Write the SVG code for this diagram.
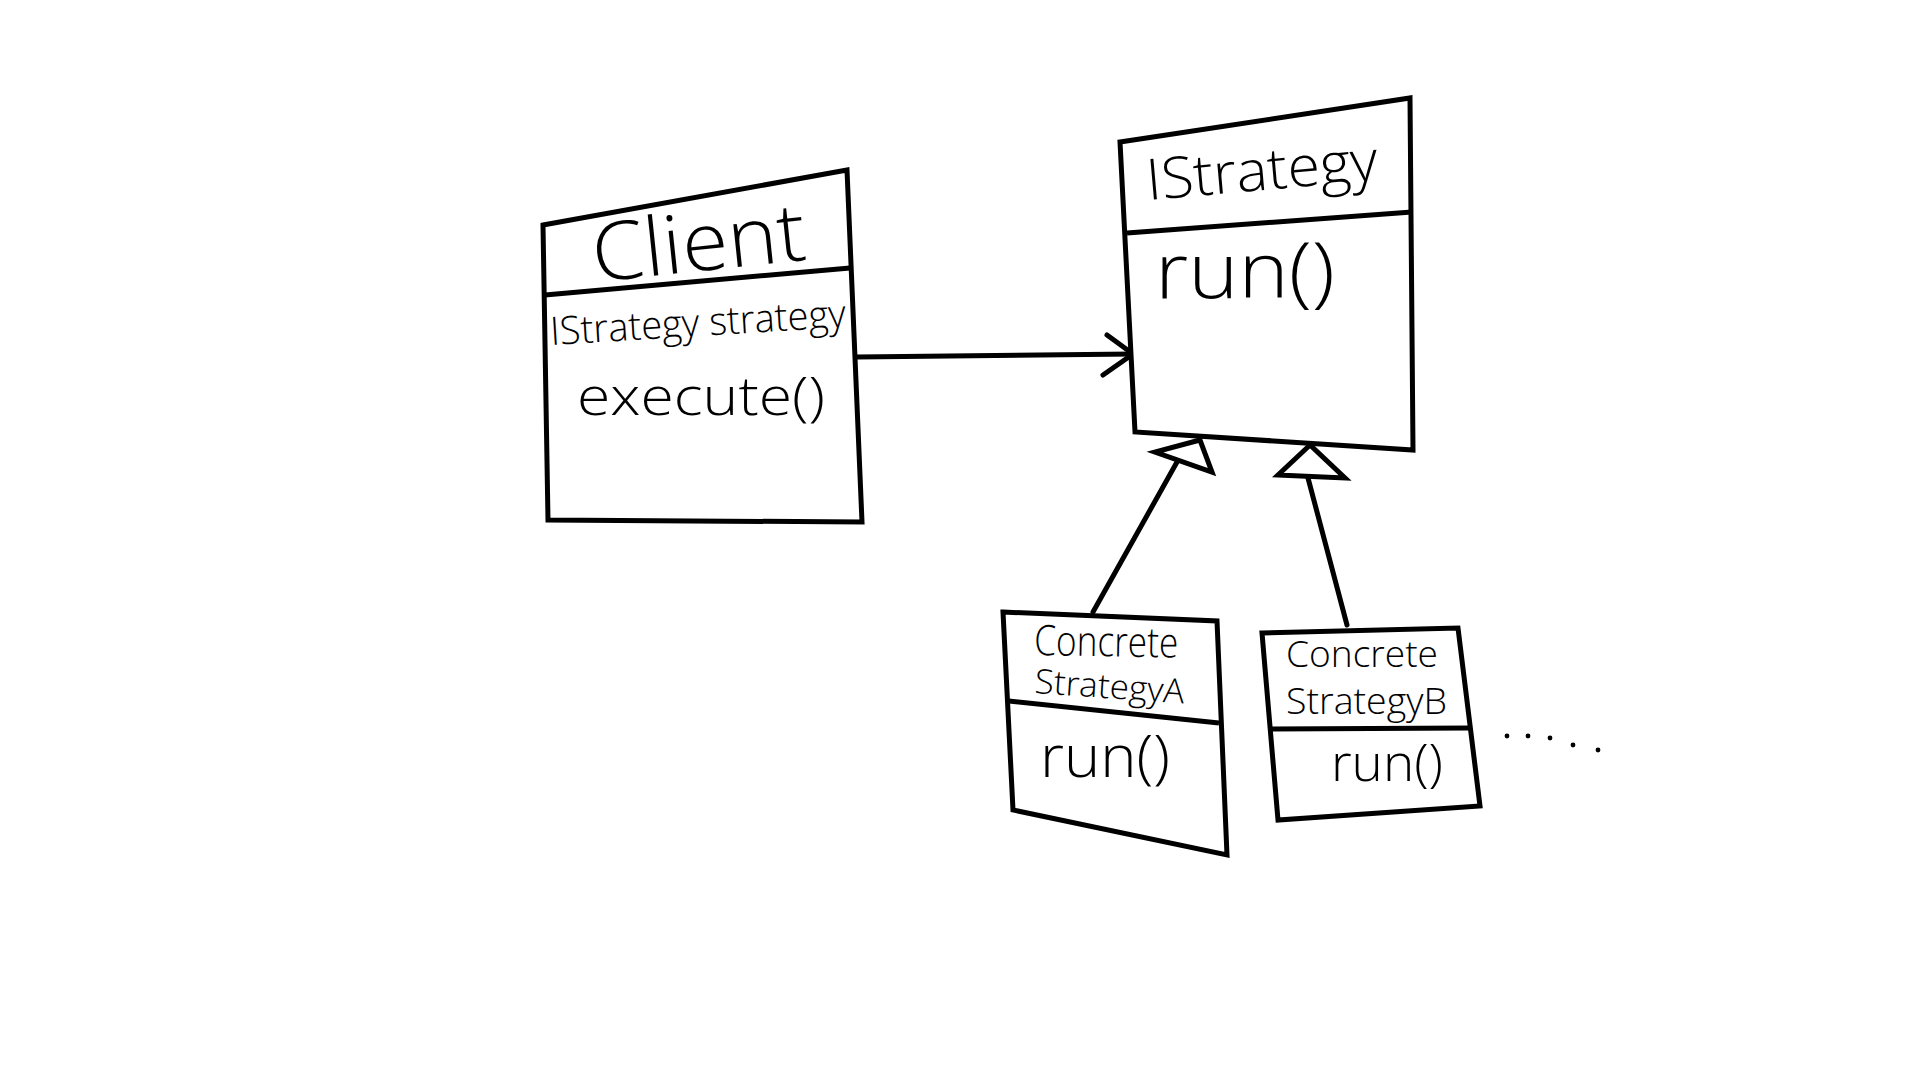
<svg xmlns="http://www.w3.org/2000/svg" width="1920" height="1080" viewBox="0 0 1920 1080">
<style>
.box{fill:#fff;stroke:#000;stroke-width:5;stroke-linejoin:miter}
.div{fill:none;stroke:#000;stroke-width:5}
.t{font-family:"Open Sans","Noto Sans","Liberation Sans",sans-serif;font-weight:300;fill:#000}
.ln{fill:none;stroke:#000;stroke-width:5;stroke-linecap:round;stroke-linejoin:round}
.tri{fill:#fff;stroke:#000;stroke-width:5;stroke-linejoin:miter}
.dot{fill:#000}
</style>
<rect width="1920" height="1080" fill="#fff"/>
<g id="connectors">
<path class="ln" d="M857,357 L1133,354"/>
<path class="ln" d="M1107,335 L1133,354 L1103,375"/>
<path class="ln" d="M1093,612 L1177,462"/>
<polygon class="tri" points="1200,440 1155,452 1212,472"/>
<path class="ln" d="M1347,625 L1308,478"/>
<polygon class="tri" points="1310,445 1278,475 1345,478"/>
</g>
<g id="client">
<polygon class="box" points="543,225 847,170 862,522 548,520"/>
<line class="div" x1="545" y1="295" x2="850" y2="268"/>
<text class="t" x="595" y="282" font-size="81" textLength="214" lengthAdjust="spacingAndGlyphs" transform="rotate(-6 595 282)">Client</text>
<text class="t" x="551" y="345" font-size="39" textLength="296" lengthAdjust="spacingAndGlyphs" transform="rotate(-3.5 551 345)">IStrategy strategy</text>
<text class="t" x="577" y="415" font-size="54" textLength="248" lengthAdjust="spacingAndGlyphs">execute()</text>
</g>
<g id="istrategy">
<polygon class="box" points="1120,142 1410,98 1413,450 1135,432"/>
<line class="div" x1="1127" y1="233" x2="1412" y2="212"/>
<text class="t" x="1148" y="200" font-size="57" textLength="232" lengthAdjust="spacingAndGlyphs" transform="rotate(-5 1148 200)">IStrategy</text>
<text class="t" x="1155" y="298" font-size="78" textLength="180" lengthAdjust="spacingAndGlyphs">run()</text>
</g>
<g id="concreteA">
<polygon class="box" points="1003,612 1217,621 1227,855 1013,810"/>
<line class="div" x1="1009" y1="701" x2="1219" y2="723"/>
<text class="t" x="1034" y="655" font-size="42" textLength="144" lengthAdjust="spacingAndGlyphs" transform="rotate(1 1034 655)">Concrete</text>
<text class="t" x="1034" y="693" font-size="34" textLength="150" lengthAdjust="spacingAndGlyphs" transform="rotate(4 1034 693)">StrategyA</text>
<text class="t" x="1040" y="777" font-size="58" textLength="130" lengthAdjust="spacingAndGlyphs">run()</text>
</g>
<g id="concreteB">
<polygon class="box" points="1262,633 1458,628 1480,806 1278,820"/>
<line class="div" x1="1272" y1="729" x2="1470" y2="728"/>
<text class="t" x="1286" y="667" font-size="36" textLength="152" lengthAdjust="spacingAndGlyphs">Concrete</text>
<text class="t" x="1286" y="714" font-size="36" textLength="161" lengthAdjust="spacingAndGlyphs">StrategyB</text>
<text class="t" x="1331" y="781" font-size="51" textLength="112" lengthAdjust="spacingAndGlyphs">run()</text>
</g>
<g id="ellipsis">
<circle class="dot" cx="1507" cy="736" r="2.4"/>
<circle class="dot" cx="1528" cy="736" r="2.4"/>
<circle class="dot" cx="1550" cy="738" r="2.4"/>
<circle class="dot" cx="1573" cy="745" r="2.4"/>
<circle class="dot" cx="1598" cy="750" r="2.4"/>
</g>
</svg>
